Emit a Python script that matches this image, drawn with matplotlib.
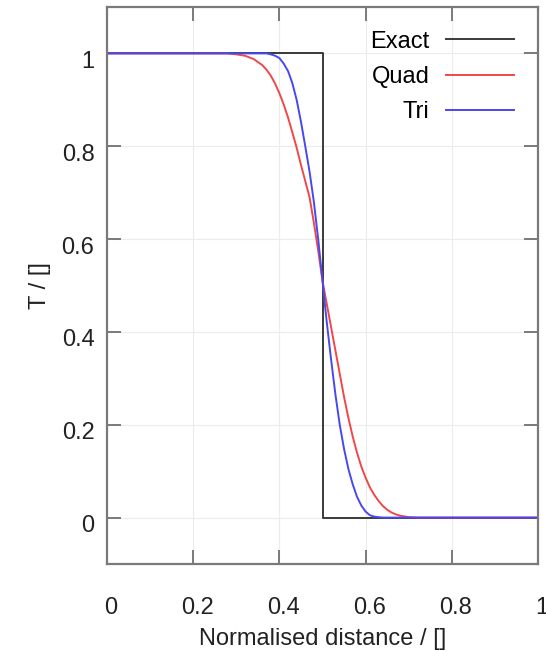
import matplotlib
matplotlib.use("Agg")
import matplotlib.pyplot as plt
from matplotlib.transforms import ScaledTranslation

# values
exact_x = [0.0, 0.5, 0.5, 1.0]
exact_t = [1.0, 1.0, 0.0, 0.0]

quad_x = [0.0, 0.28, 0.30, 0.32, 0.34, 0.36, 0.37, 0.38, 0.39, 0.40, 0.41, 0.42,
          0.43, 0.44, 0.45, 0.46, 0.47, 0.48, 0.49, 0.50, 0.51, 0.52, 0.53, 0.54,
          0.55, 0.56, 0.57, 0.58, 0.59, 0.60, 0.61, 0.62, 0.63, 0.64, 0.65, 0.66,
          0.67, 0.68, 0.70, 0.72, 1.0]
quad_t = [1.0, 1.0, 0.998, 0.995, 0.988, 0.975, 0.965, 0.952, 0.935, 0.914, 0.89, 0.862,
          0.83, 0.797, 0.76, 0.725, 0.69, 0.635, 0.575, 0.51, 0.46, 0.41, 0.36, 0.31,
          0.26, 0.215, 0.175, 0.14, 0.11, 0.086, 0.065, 0.049, 0.036, 0.025, 0.017, 0.011,
          0.007, 0.004, 0.001, 0.0, 0.0]

tri_x = [0.0, 0.37, 0.38, 0.39, 0.40, 0.41, 0.42, 0.43, 0.44, 0.45, 0.46, 0.47,
         0.48, 0.49, 0.50, 0.51, 0.52, 0.53, 0.54, 0.55, 0.56, 0.57, 0.58, 0.59,
         0.60, 0.61, 0.62, 0.64, 1.0]
tri_t = [1.0, 1.0, 0.998, 0.995, 0.99, 0.978, 0.962, 0.936, 0.90, 0.853, 0.80, 0.745,
         0.68, 0.60, 0.51, 0.42, 0.34, 0.265, 0.20, 0.148, 0.105, 0.072, 0.045, 0.026,
         0.013, 0.005, 0.002, 0.0, 0.0]

xticks = [0, 0.2, 0.4, 0.6, 0.8, 1.0]
xtick_labels = ["0", "0.2", "0.4", "0.6", "0.8", "1"]
yticks = [0, 0.2, 0.4, 0.6, 0.8, 1.0]
ytick_labels = ["0", "0.2", "0.4", "0.6", "0.8", "1"]

plt.rcParams["font.family"] = ["Liberation Sans", "DejaVu Sans"]

fig = plt.figure(figsize=(5.46, 6.51), dpi=100)
ax = fig.add_axes([107 / 546, 87 / 651, 431 / 546, 557 / 651])

ax.plot(exact_x, exact_t, color="#3a3a3a", lw=1.4, label="Exact")
ax.plot(quad_x, quad_t, color="#f04848", lw=1.4, label="Quad")
ax.plot(tri_x, tri_t, color="#4848f0", lw=1.4, label="Tri")

ax.set_xlim(0, 1)
ax.set_ylim(-0.1, 1.1)
ax.set_xticks(xticks)
ax.set_xticklabels(xtick_labels)
ax.set_yticks(yticks)
ax.set_yticklabels(ytick_labels)

grey = "#7a7a7a"
for s in ax.spines.values():
    s.set_color(grey)
    s.set_linewidth(1.6)
ax.tick_params(direction="in", length=10, width=1.4, color=grey,
               top=True, right=True, labelsize=17, labelcolor="#222222")
ax.tick_params(axis="x", pad=24)
ax.tick_params(axis="y", pad=9)
ax.grid(True, color="#ececec", lw=0.8)

# gnuplot puts its tick labels a few pixels off the ticks
for lbl in ax.get_xticklabels():
    lbl.set_transform(lbl.get_transform() + ScaledTranslation(0.04, 0, fig.dpi_scale_trans))
for lbl in ax.get_yticklabels():
    lbl.set_transform(lbl.get_transform() + ScaledTranslation(0, -0.06, fig.dpi_scale_trans))

ax.set_xlabel("Normalised distance / []", fontsize=17, color="#222222", labelpad=6)
ax.set_ylabel("T / []", fontsize=17, color="#222222", labelpad=8)

ax.legend(loc="upper right", frameon=False, markerfirst=False, fontsize=17,
          handlelength=2.9, handletextpad=0.7, labelspacing=0.56,
          borderaxespad=0.6, borderpad=0.4)

fig.savefig("out.png", dpi=100)
